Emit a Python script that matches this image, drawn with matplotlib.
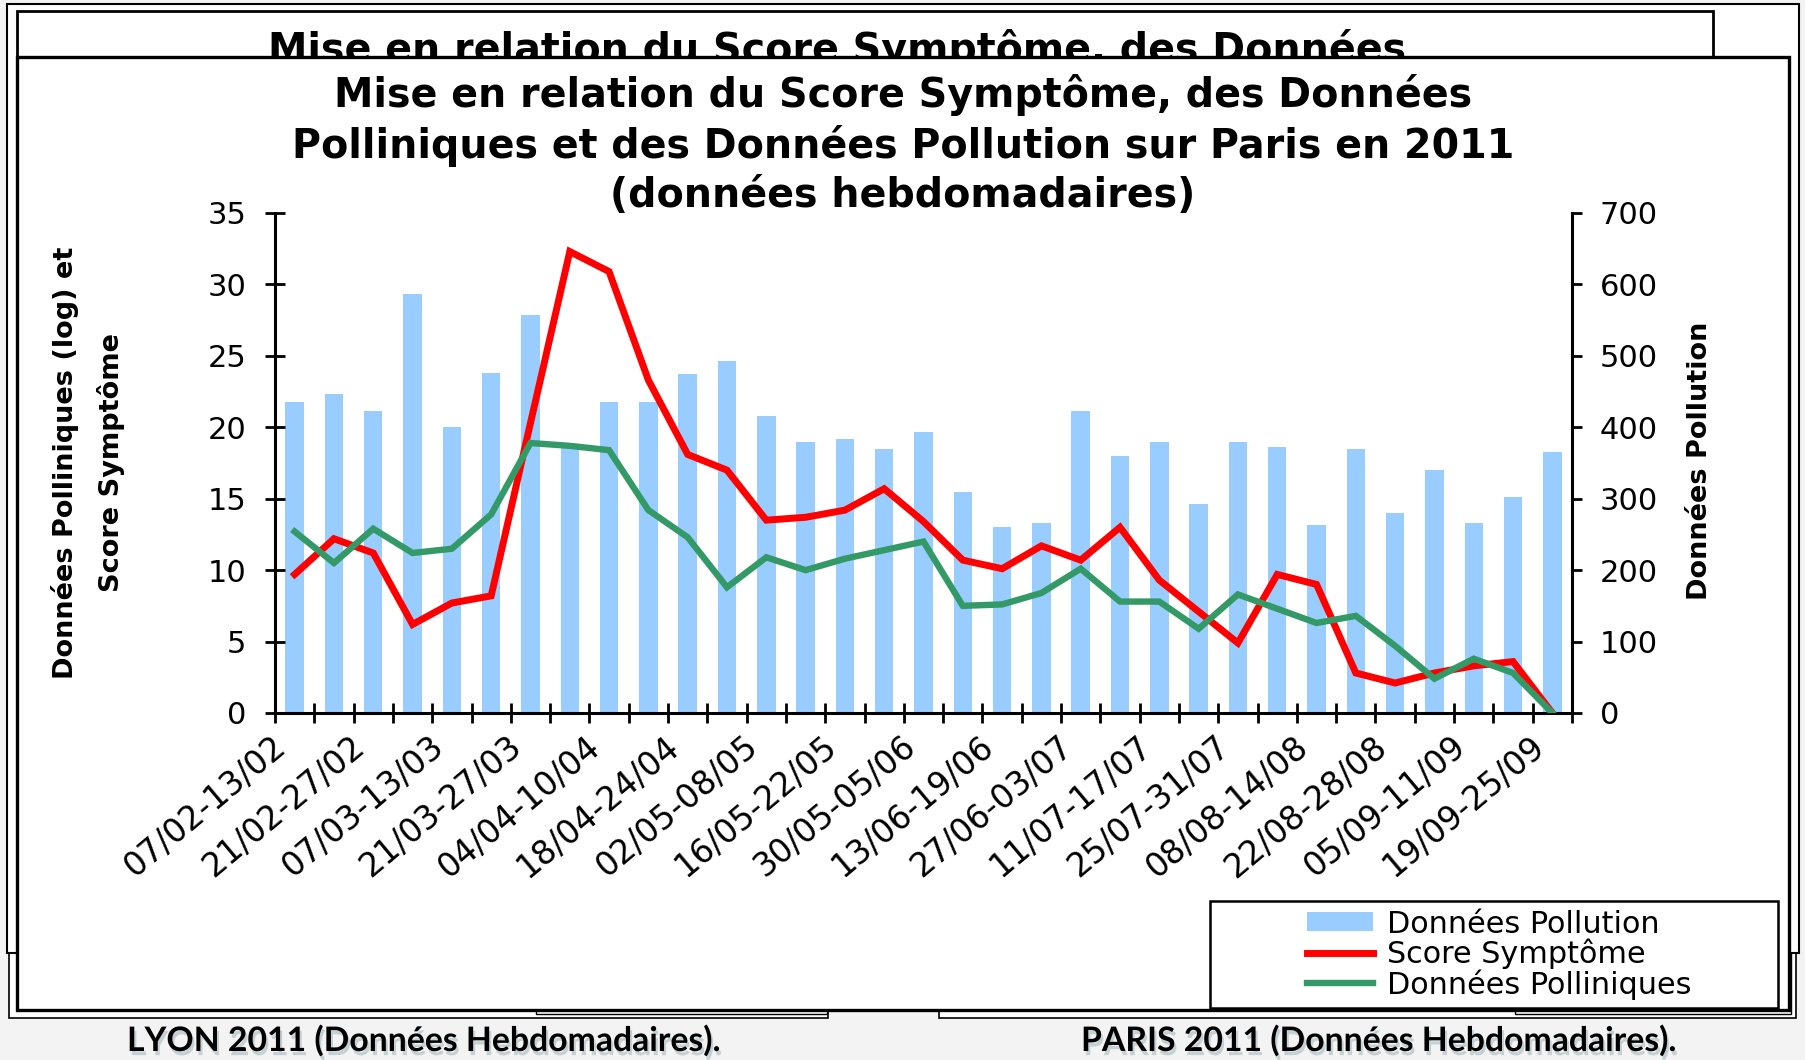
import matplotlib
matplotlib.use("Agg")
import matplotlib.pyplot as plt
from matplotlib.patches import Rectangle
from matplotlib.transforms import ScaledTranslation
import matplotlib.patheffects as pe
import numpy as np

plt.rcParams['font.family'] = ['DejaVu Sans']

# ---------------- data ----------------
categories = ["07/02-13/02", "14/02-20/02", "21/02-27/02", "28/02-06/03", "07/03-13/03",
              "14/03-20/03", "21/03-27/03", "28/03-03/04", "04/04-10/04", "11/04-17/04",
              "18/04-24/04", "25/04-01/05", "02/05-08/05", "09/05-15/05", "16/05-22/05",
              "23/05-29/05", "30/05-05/06", "06/06-12/06", "13/06-19/06", "20/06-26/06",
              "27/06-03/07", "04/07-10/07", "11/07-17/07", "18/07-24/07", "25/07-31/07",
              "01/08-07/08", "08/08-14/08", "15/08-21/08", "22/08-28/08", "29/08-04/09",
              "05/09-11/09", "12/09-18/09", "19/09-25/09"]

pollution = [436, 446, 423, 587, 400, 476, 557, 372, 436, 436, 474, 493, 416, 380, 383, 370,
             393, 309, 260, 266, 423, 360, 380, 293, 380, 373, 263, 370, 280, 340, 266, 303, 366]

score = [9.7, 12.2, 11.2, 6.2, 7.7, 8.2, 20.3, 32.3, 30.9, 23.3, 18.1, 17.0, 13.5, 13.7, 14.2,
         15.7, 13.4, 10.7, 10.1, 11.7, 10.7, 13.0, 9.3, 7.1, 4.9, 9.7, 9.0, 2.8, 2.1, 2.8, 3.3,
         3.6, 0.0]

pollen = [12.7, 10.5, 12.9, 11.2, 11.5, 13.9, 18.9, 18.7, 18.4, 14.2, 12.3, 8.8, 10.9, 10.0,
          10.8, 11.4, 12.0, 7.5, 7.6, 8.4, 10.1, 7.8, 7.8, 5.9, 8.3, 7.3, 6.3, 6.8, 4.7, 2.4,
          3.8, 2.8, 0.0]

left_ticks = [0, 5, 10, 15, 20, 25, 30, 35]
right_ticks = [0, 100, 200, 300, 400, 500, 600, 700]

title = ("Mise en relation du Score Symptôme, des Données\n"
         "Polliniques et des Données Pollution sur Paris en 2011\n"
         "(données hebdomadaires)")
back_title = "Mise en relation du Score Symptôme, des Données"

W, H = 1806, 1060
fig = plt.figure(figsize=(W / 100, H / 100), dpi=100, facecolor='#f3f3f3')

# ------------- background / slide frames (pixel coordinates) -------------
bg = fig.add_axes([0, 0, 1, 1], zorder=0)
bg.set_xlim(0, W)
bg.set_ylim(H, 0)
bg.axis('off')


def frame(x0, y0, x1, y1, lw=1.3, z=1):
    bg.add_patch(Rectangle((x0, y0), x1 - x0, y1 - y0, facecolor='white',
                           edgecolor='black', linewidth=lw, zorder=z))


frame(9, 700, 828, 1018, lw=1.2, z=1)
frame(939, 700, 1796, 1018, lw=1.2, z=1)
frame(536, 900, 827, 1014, lw=1.0, z=1.5)
frame(1515, 900, 1791, 1014, lw=1.0, z=1.5)
frame(7, 4, 1799, 953, lw=1.5, z=2)
frame(17, 11, 1713, 500, lw=2.0, z=3)
bg.text(837, 62, back_title, ha='center', va='baseline', fontsize=28.5,
        fontweight='bold', zorder=4)
frame(17, 57, 1789, 1010, lw=2.4, z=5)

bg.text(903, 145, title, ha='center', va='center', fontsize=28.5, fontweight='bold',
        linespacing=1.28, zorder=6)
bg.text(88, 463, "Données Polliniques (log) et\nScore Symptôme", rotation=90,
        ha='center', va='center', fontsize=19.5, fontweight='bold', linespacing=1.8, zorder=6)
bg.text(1700, 461, "Données Pollution", rotation=90, ha='center', va='center',
        fontsize=19.5, fontweight='bold', zorder=6)

# legend frame
frame(1210, 901, 1778, 1008, lw=1.8, z=6)

shadow = [pe.withSimplePatchShadow(offset=(1.5, -3), shadow_rgbFace='#8fa6b2', alpha=0.45)]
bg.text(127, 1051, "LYON 2011 (Données Hebdomadaires).", ha='left', va='baseline',
        fontsize=24.3, fontweight='bold', family='Lato', path_effects=shadow, zorder=6)
bg.text(1081, 1051, "PARIS 2011 (Données Hebdomadaires).", ha='left', va='baseline',
        fontsize=24.3, fontweight='bold', family='Lato', path_effects=shadow, zorder=6)

# ------------- chart -------------
ax = fig.add_axes([0.15227, 0.32736, 0.71816, 0.4717], zorder=1)
ax.patch.set_alpha(0)
x = np.arange(len(categories))
bars = ax.bar(x, pollution, width=0.47, color='#99ccff', label='Données Pollution', zorder=1)
ax.set_ylim(0, 700)
ax.set_xlim(-0.5, len(categories) - 0.5)

ax2 = ax.twinx()
ax2.set_zorder(2)
ax2.patch.set_visible(False)
l1, = ax2.plot(x, score, color='#ff0000', lw=5.0, label='Score Symptôme', solid_joinstyle='miter')
l2, = ax2.plot(x, pollen, color='#339966', lw=4.6, label='Données Polliniques', solid_joinstyle='miter')
ax2.set_ylim(0, 35)

ax.yaxis.tick_right()
ax.yaxis.set_label_position('right')
ax2.yaxis.tick_left()
ax2.yaxis.set_label_position('left')

ax.set_yticks(right_ticks)
ax2.set_yticks(left_ticks)

for a in (ax, ax2):
    a.spines['top'].set_visible(False)
    for s in ('left', 'right', 'bottom'):
        a.spines[s].set_linewidth(2.2)
ax.spines['left'].set_visible(False)
ax2.spines['right'].set_visible(False)
ax2.spines['bottom'].set_visible(False)

ax.tick_params(axis='y', which='major', direction='out', length=7, width=2,
               labelsize=22, pad=13)
ax2.tick_params(axis='y', which='major', direction='inout', length=15, width=2,
                labelsize=22, pad=13)

ax.set_xticks(x[::2])
ax.set_xticklabels(categories[::2], rotation=40, ha='right', va='top',
                   rotation_mode='anchor')
ax.set_xticks(np.arange(-0.5, len(categories), 1.0), minor=True)
ax.tick_params(axis='x', which='major', length=0, labelsize=23.5, pad=12)
ax.tick_params(axis='x', which='minor', direction='inout', length=14, width=2)
off = ScaledTranslation(-23 / 100, 0, fig.dpi_scale_trans)
for lab in ax.get_xticklabels():
    lab.set_transform(lab.get_transform() + off)

fig.legend([bars, l1, l2], ['Données Pollution', 'Score Symptôme', 'Données Polliniques'],
           loc='center', bbox_to_anchor=(0.830, 0.0995), frameon=False, fontsize=21.8,
           labelspacing=0.0, handlelength=2.2, handleheight=0.6, handletextpad=0.45,
           borderpad=0)

fig.savefig('out.png', dpi=100, facecolor=fig.get_facecolor())
